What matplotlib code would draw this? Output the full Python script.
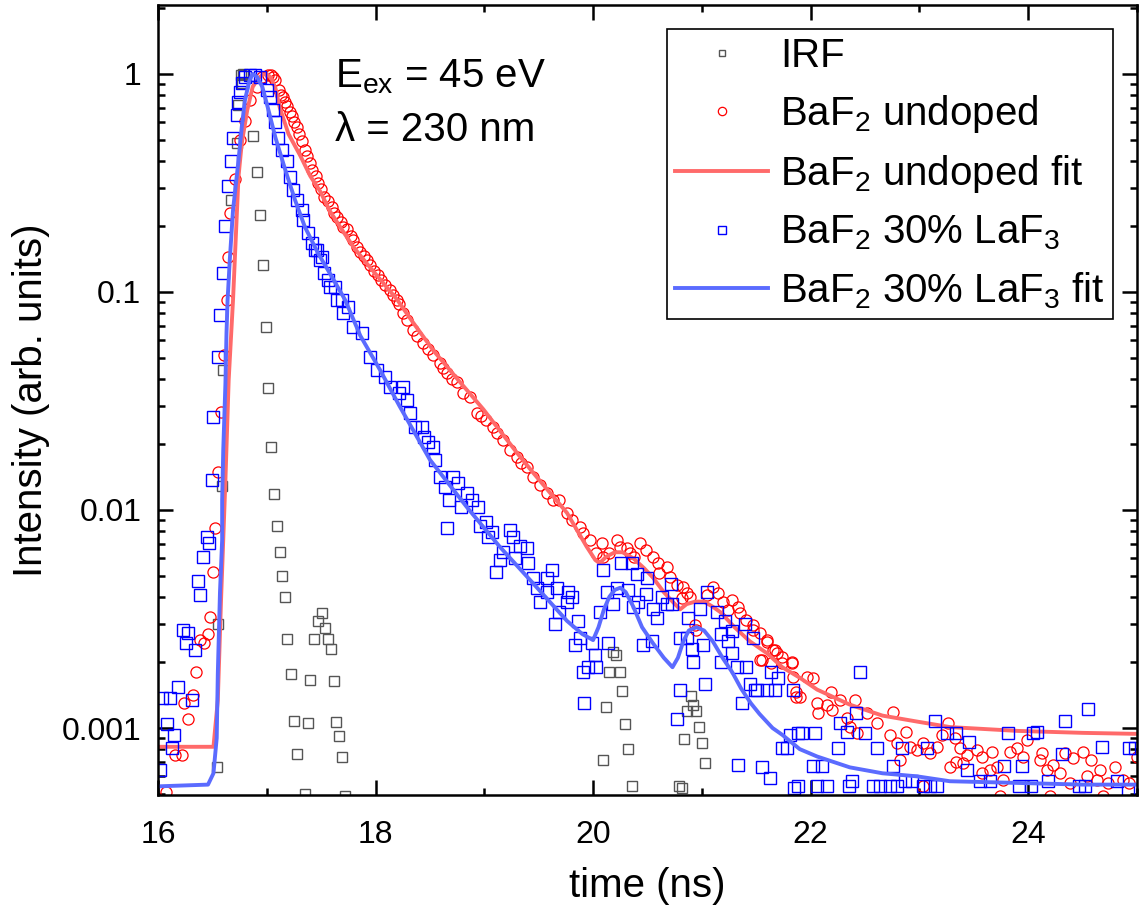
import matplotlib.pyplot as plt
from matplotlib.ticker import LogLocator, FixedLocator, FixedFormatter, MultipleLocator, NullFormatter

plt.rcParams['font.family'] = 'Liberation Sans'
plt.rcParams['mathtext.fontset'] = 'custom'
plt.rcParams['mathtext.rm'] = 'Liberation Sans'
plt.rcParams['mathtext.it'] = 'Liberation Sans:italic'

# IRF (instrument response)
irf_t = [16.54, 16.55, 16.59, 16.60, 16.67, 16.73, 16.74, 16.76, 16.77, 16.78,
         16.87, 16.91, 16.94, 16.97, 16.99, 17.01, 17.04, 17.07, 17.09, 17.12,
         17.14, 17.17, 17.19, 17.22, 17.25, 17.28, 17.35, 17.38, 17.40, 17.43,
         17.47, 17.51, 17.54, 17.56, 17.59, 17.62, 17.64, 17.66, 17.69, 17.72,
         20.09, 20.12, 20.15, 20.18, 20.21, 20.25, 20.27, 20.29, 20.32, 20.36,
         20.79, 20.82, 20.84, 20.86, 20.90, 20.92, 20.95, 20.97, 21.00, 21.03]
irf_i = [0.00066, 0.0030, 0.0129, 0.044, 0.264, 0.48, 0.72, 0.99, 0.91, 1.0,
         0.52, 0.355, 0.226, 0.133, 0.069, 0.0363, 0.0195, 0.0118, 0.0084, 0.0064,
         0.0050, 0.0040, 0.00256, 0.00177, 0.00108, 0.00076, 0.00050, 0.00105, 0.00166, 0.00256,
         0.0031, 0.00337, 0.00288, 0.00256, 0.0023, 0.00164, 0.00107, 0.00092, 0.00074, 0.00049,
         0.00071, 0.00125, 0.00181, 0.00224, 0.00216, 0.00181, 0.00148, 0.00104, 0.0008, 0.00054,
         0.00054, 0.00053, 0.00089, 0.0012, 0.0014, 0.00128, 0.0012, 0.00101, 0.00085, 0.00069]

# BaF2 undoped
undoped_t = [16.07, 16.16, 16.22, 16.24, 16.28, 16.32, 16.35, 16.39, 16.42, 16.46,
             16.48, 16.51, 16.52, 16.55, 16.58, 16.61, 16.63, 16.64, 16.66, 16.71,
             16.75, 16.80, 16.85, 16.91, 16.96, 17.01, 17.04, 17.06, 17.08,
             17.11, 17.13, 17.15, 17.17, 17.19, 17.21, 17.23, 17.25, 17.28, 17.30,
             17.32, 17.35, 17.37, 17.40, 17.42, 17.45, 17.47, 17.50, 17.53, 17.56,
             17.60, 17.62, 17.65, 17.68, 17.70, 17.74, 17.77, 17.79, 17.83, 17.86,
             17.89, 17.92, 17.95, 17.99, 18.02, 18.05, 18.09, 18.13, 18.16, 18.20,
             18.22, 18.25, 18.29, 18.34, 18.38, 18.44, 18.48, 18.53, 18.59, 18.62,
             18.66, 18.70, 18.75, 18.80, 18.87, 18.93, 18.97, 19.02, 19.08, 19.12,
             19.17, 19.24, 19.30, 19.34, 19.39, 19.45, 19.51, 19.58, 19.63, 19.69,
             19.76, 19.81, 19.88, 19.91, 19.97, 20.03, 20.08, 20.09, 20.15, 20.22,
             20.25, 20.31, 20.34, 20.38, 20.43, 20.49, 20.55, 20.60, 20.61, 20.68,
             20.71, 20.77, 20.82, 20.83, 20.86, 20.89, 20.94, 20.95, 21.05, 21.10,
             21.15, 21.19, 21.24, 21.28, 21.33, 21.35, 21.41, 21.47, 21.47, 21.53,
             21.53, 21.55, 21.60, 21.60, 21.64, 21.65, 21.67, 21.69, 21.74, 21.74,
             21.83, 21.83, 21.84, 21.87, 21.87, 21.90, 21.97, 22.02, 22.06, 22.07,
             22.15, 22.19, 22.20, 22.27, 22.33, 22.36, 22.41, 22.43, 22.52, 22.61,
             22.73, 22.76, 22.79, 22.82, 22.88, 22.91, 22.98, 23.03, 23.03, 23.10,
             23.16, 23.21, 23.26, 23.28, 23.33, 23.34, 23.37, 23.40, 23.44, 23.53,
             23.58, 23.58, 23.65, 23.67, 23.71, 23.74, 23.77, 23.83, 23.90, 23.95,
             23.99, 24.11, 24.13, 24.17, 24.20, 24.23, 24.29, 24.34, 24.38, 24.41,
             24.50, 24.54, 24.58, 24.63, 24.66, 24.69, 24.73, 24.80, 24.87, 24.93,
             25.00]
undoped_i = [0.00051, 0.00075, 0.00075, 0.0013, 0.0011, 0.00142, 0.00181, 0.00253, 0.00245, 0.0027,
             0.00323, 0.0052, 0.0083, 0.0149, 0.028, 0.0514, 0.092, 0.145, 0.23, 0.33,
             0.50, 0.61, 0.76, 0.87, 0.97, 0.99, 0.99, 0.97, 0.94,
             0.84, 0.80, 0.78, 0.74, 0.71, 0.67, 0.64, 0.60, 0.57, 0.53,
             0.49, 0.45, 0.42, 0.39, 0.363, 0.34, 0.316, 0.295, 0.273, 0.26,
             0.245, 0.23, 0.221, 0.21, 0.199, 0.195, 0.18, 0.173, 0.16, 0.152,
             0.146, 0.14, 0.133, 0.125, 0.119, 0.113, 0.108, 0.102, 0.097, 0.092,
             0.088, 0.080, 0.074, 0.067, 0.063, 0.0584, 0.055, 0.0514, 0.0472, 0.045,
             0.0425, 0.040, 0.0386, 0.0344, 0.033, 0.0279, 0.027, 0.0259, 0.024, 0.0225,
             0.0209, 0.0188, 0.0175, 0.0165, 0.0157, 0.0142, 0.013, 0.012, 0.0111, 0.0111,
             0.0097, 0.009, 0.00836, 0.0078, 0.0073, 0.00635, 0.00706, 0.00609, 0.00635, 0.0073,
             0.00677, 0.0067, 0.00635, 0.00609, 0.00706, 0.00656, 0.00609, 0.00571, 0.00514, 0.00548,
             0.00493, 0.00453, 0.00395, 0.00443, 0.00416, 0.00399, 0.00297, 0.00282, 0.00407, 0.00443,
             0.00416, 0.00378, 0.00348, 0.00387, 0.00359, 0.00337, 0.00313, 0.00297, 0.00282, 0.00273,
             0.00205, 0.00205, 0.00248, 0.00253, 0.00199, 0.00228, 0.00228, 0.00221, 0.00199, 0.00212,
             0.00201, 0.00199, 0.00171, 0.00139, 0.00146, 0.00139, 0.00171, 0.0017, 0.0013, 0.00117,
             0.00128, 0.00146, 0.00121, 0.00134, 0.00111, 0.00101, 0.00134, 0.00095, 0.00117, 0.00105,
             0.00093, 0.00118, 0.00085, 0.00071, 0.00096, 0.00082, 0.00079, 0.00085, 0.00054, 0.00077,
             0.00082, 0.00093, 0.00105, 0.00066, 0.0009, 0.0007, 0.00081, 0.00069, 0.00075, 0.00079,
             0.00074, 0.00062, 0.00064, 0.00078, 0.00066, 0.00049, 0.00058, 0.00078, 0.00081, 0.00074,
             0.00088, 0.00071, 0.00077, 0.00064, 0.00049, 0.00068, 0.00062, 0.00077, 0.00056, 0.00073,
             0.00078, 0.0006, 0.00071, 0.00058, 0.00064, 0.00049, 0.00056, 0.00066, 0.00058, 0.00056,
             0.00074]

undoped_fit_t = [16.00, 16.51, 16.55, 16.58, 16.62, 16.65, 16.69, 16.74, 16.77, 16.82,
                 16.87, 16.92, 16.96, 17.00, 17.04, 17.08, 17.12, 17.20, 17.31, 17.40,
                 17.49, 17.58, 17.70, 17.80, 17.92, 18.07, 18.20, 18.34, 18.53, 18.75,
                 18.99, 19.30, 19.45, 19.76, 19.94, 20.02, 20.06, 20.12, 20.20, 20.27,
                 20.37, 20.47, 20.55, 20.65, 20.73, 20.80, 20.86, 20.94, 21.02, 21.10,
                 21.17, 21.30, 21.44, 21.60, 21.74, 21.90, 22.06, 22.36, 22.66, 22.98,
                 23.28, 23.90, 24.50, 25.00]
undoped_fit_i = [0.00082, 0.00082, 0.00134, 0.0039, 0.0137, 0.0395, 0.092, 0.337, 0.48, 0.68,
                 0.87, 0.95, 0.99, 1.0, 0.96, 0.86, 0.70, 0.53, 0.42, 0.34,
                 0.29, 0.235, 0.19, 0.16, 0.135, 0.11, 0.092, 0.073, 0.054, 0.040,
                 0.029, 0.0183, 0.0148, 0.0097, 0.0068, 0.0059, 0.0057, 0.0061, 0.0064, 0.0064,
                 0.0060, 0.0054, 0.0049, 0.0042, 0.0038, 0.0035, 0.0037, 0.0038, 0.0038, 0.0036,
                 0.0034, 0.0029, 0.0025, 0.0022, 0.0019, 0.0017, 0.0015, 0.00128, 0.00114, 0.00107,
                 0.00101, 0.00097, 0.00095, 0.00094]

# BaF2 30% LaF3
laf3_t = [16.02, 16.04, 16.08, 16.11, 16.13, 16.15, 16.18, 16.23, 16.26, 16.28,
          16.31, 16.34, 16.37, 16.39, 16.41, 16.45, 16.47, 16.50, 16.51, 16.55,
          16.57, 16.60, 16.62, 16.64, 16.67, 16.69, 16.73, 16.74, 16.75, 16.77,
          16.80, 16.85, 16.89, 16.94, 17.00, 17.03, 17.06, 17.08, 17.10, 17.14,
          17.19, 17.21, 17.24, 17.28, 17.32, 17.33, 17.38, 17.42, 17.44, 17.46,
          17.49, 17.51, 17.53, 17.56, 17.58, 17.63, 17.65, 17.69, 17.70, 17.75,
          17.79, 17.88, 17.95, 18.01, 18.09, 18.13, 18.22, 18.25, 18.29, 18.32,
          18.36, 18.43, 18.45, 18.48, 18.53, 18.55, 18.59, 18.64, 18.66, 18.68,
          18.71, 18.76, 18.79, 18.84, 18.89, 18.94, 18.96, 19.02, 19.03, 19.07,
          19.11, 19.14, 19.17, 19.24, 19.26, 19.28, 19.33, 19.39, 19.40, 19.45,
          19.48, 19.51, 19.58, 19.58, 19.62, 19.65, 19.67, 19.69, 19.76, 19.77,
          19.81, 19.83, 19.86, 19.88, 19.91, 19.92, 19.95, 19.99, 20.02, 20.03,
          20.06, 20.09, 20.13, 20.14, 20.18, 20.22, 20.26, 20.32, 20.36, 20.37,
          20.40, 20.41, 20.46, 20.49, 20.50, 20.54, 20.55, 20.59, 20.63, 20.68,
          20.72, 20.73, 20.77, 20.80, 20.80, 20.86, 20.87, 20.91, 20.92, 20.98,
          21.01, 21.03, 21.05, 21.14, 21.18, 21.18, 21.21, 21.24, 21.28, 21.28,
          21.32, 21.33, 21.37, 21.40, 21.41, 21.44, 21.47, 21.49, 21.51, 21.55,
          21.60, 21.63, 21.64, 21.67, 21.70, 21.74, 21.78, 21.81, 21.84, 21.85,
          21.88, 21.88, 21.92, 22.02, 22.04, 22.06, 22.10, 22.15, 22.25, 22.27,
          22.33, 22.35, 22.38, 22.42, 22.45, 22.50, 22.57, 22.61, 22.64, 22.73,
          22.76, 22.79, 22.84, 22.87, 22.93, 23.03, 23.07, 23.10, 23.14, 23.16,
          23.25, 23.34, 23.44, 23.46, 23.56, 23.65, 23.78, 23.81, 23.92, 23.94,
          24.03, 24.04, 24.08, 24.18, 24.31, 24.34, 24.47, 24.52, 24.55, 24.68,
          24.82, 24.92, 24.93, 24.98]
laf3_i = [0.00064, 0.00137, 0.00104, 0.00137, 0.00081, 0.00093, 0.00155, 0.00282, 0.00245, 0.00273,
          0.00134, 0.00228, 0.0047, 0.00407, 0.00609, 0.0075, 0.00706, 0.0137, 0.0267, 0.0503,
          0.0784, 0.122, 0.20, 0.306, 0.40, 0.51, 0.65, 0.74, 0.83, 0.91,
          0.97, 0.99, 0.99, 0.97, 0.84, 0.78, 0.68, 0.60, 0.51, 0.45,
          0.40, 0.337, 0.294, 0.264, 0.238, 0.214, 0.187, 0.168, 0.156, 0.156,
          0.14, 0.145, 0.122, 0.1135, 0.105, 0.105, 0.092, 0.092, 0.080, 0.085,
          0.069, 0.065, 0.0503, 0.0439, 0.0407, 0.0367, 0.0344, 0.0367, 0.032, 0.0279,
          0.024, 0.024, 0.0216, 0.0205, 0.0195, 0.017, 0.0142, 0.0128, 0.0083, 0.0111,
          0.0142, 0.0133, 0.0103, 0.012, 0.0111, 0.0103, 0.0084, 0.0088, 0.0075, 0.0079,
          0.0052, 0.0059, 0.0064, 0.0081, 0.0075, 0.006, 0.0068, 0.0067, 0.0057, 0.0049,
          0.0044, 0.0038, 0.0049, 0.0042, 0.0053, 0.003, 0.0044, 0.0034, 0.0038, 0.0042,
          0.004, 0.0024, 0.0031, 0.0026, 0.0018, 0.0013, 0.0019, 0.00245, 0.00216, 0.0019,
          0.0034, 0.0053, 0.0042, 0.00245, 0.0037, 0.0044, 0.0057, 0.0043, 0.0057, 0.0036,
          0.0051, 0.0038, 0.0024, 0.0041, 0.0049, 0.0025, 0.0035, 0.0032, 0.004, 0.0037,
          0.0046, 0.0037, 0.0011, 0.0026, 0.0015, 0.0026, 0.0032, 0.0023, 0.002, 0.0035,
          0.0024, 0.0016, 0.0042, 0.0034, 0.0027, 0.002, 0.0031, 0.0025, 0.0028, 0.0022,
          0.0019, 0.00068, 0.0013, 0.003, 0.0019, 0.0016, 0.0026, 0.0015, 0.0015, 0.00066,
          0.0015, 0.00059, 0.0018, 0.0015, 0.0017, 0.00081, 0.00081, 0.00093, 0.0015, 0.00053,
          0.00095, 0.00054, 0.00095, 0.00067, 0.00095, 0.00054, 0.00067, 0.00054, 0.00081, 0.00105,
          0.00096, 0.00054, 0.00057, 0.00117, 0.0018, 0.00095, 0.00054, 0.00081, 0.00054, 0.00054,
          0.00067, 0.00054, 0.00081, 0.00057, 0.00057, 0.00054, 0.00081, 0.00054, 0.00108, 0.00054,
          0.00095, 0.00095, 0.00064, 0.00086, 0.00057, 0.00057, 0.00067, 0.00095, 0.00054, 0.00067,
          0.00054, 0.00095, 0.00096, 0.00057, 0.00076, 0.00108, 0.00054, 0.00054, 0.00122, 0.00082,
          0.00057, 0.00052, 0.00081, 0.00081]

laf3_fit_t = [16.00, 16.46, 16.51, 16.54, 16.55, 16.57, 16.59, 16.59, 16.60, 16.62,
              16.63, 16.64, 16.66, 16.69, 16.74, 16.77, 16.80, 16.84, 16.87, 16.91,
              16.96, 17.01, 17.08, 17.17, 17.26, 17.35, 17.47, 17.60, 17.72, 17.86,
              18.04, 18.22, 18.50, 18.84, 19.14, 19.45, 19.76, 19.90, 20.00, 20.05,
              20.10, 20.15, 20.20, 20.25, 20.30, 20.37, 20.45, 20.55, 20.65, 20.73,
              20.78, 20.83, 20.88, 20.95, 21.02, 21.10, 21.19, 21.28, 21.36, 21.45,
              21.53, 21.65, 21.74, 21.90, 22.06, 22.36, 22.66, 22.98, 23.28, 23.90,
              24.50, 25.00]
laf3_fit_i = [0.00054, 0.00055, 0.00062, 0.0009, 0.00177, 0.0042, 0.0073, 0.0111, 0.0188, 0.038,
              0.065, 0.092, 0.14, 0.238, 0.40, 0.57, 0.76, 0.93, 1.0, 0.97,
              0.87, 0.70, 0.51, 0.363, 0.264, 0.199, 0.151, 0.117, 0.092, 0.063,
              0.044, 0.030, 0.017, 0.0103, 0.0068, 0.0046, 0.0031, 0.0027, 0.00253, 0.0029,
              0.0035, 0.0040, 0.0043, 0.0044, 0.0042, 0.0036, 0.0029, 0.00245, 0.0021, 0.0019,
              0.0021, 0.0025, 0.0028, 0.0029, 0.0028, 0.0025, 0.0021, 0.0018, 0.00152, 0.0013,
              0.00116, 0.0010, 0.00093, 0.0008, 0.00074, 0.00066, 0.00062, 0.0006, 0.00057, 0.00056,
              0.00055, 0.00055]

fig = plt.figure(figsize=(11.39, 9.10), dpi=100)
ax = fig.add_axes([0.1387, 0.1264, 0.8595, 0.8681])

ax.plot(irf_t, irf_i, ls='none', marker='s', ms=6.5, mfc='none', mec='#555555', mew=1.0, label='IRF')
ax.plot(undoped_t, undoped_i, ls='none', marker='o', ms=8, mfc='none', mec='#ff0000', mew=0.9,
        label='BaF$_2$ undoped')
ax.plot(undoped_fit_t, undoped_fit_i, color='#ff6a6a', lw=2.8, label='BaF$_2$ undoped fit')
ax.plot(laf3_t, laf3_i, ls='none', marker='s', ms=8, mfc='none', mec='#0000ff', mew=1.0,
        label='BaF$_2$ 30% LaF$_3$')
ax.plot(laf3_fit_t, laf3_fit_i, color='#5b6bff', lw=2.8, label='BaF$_2$ 30% LaF$_3$ fit')

ax.set_yscale('log')
ax.set_xlim(16, 25)
ax.set_ylim(4.93e-4, 2.07)

ax.xaxis.set_major_locator(MultipleLocator(2))
ax.xaxis.set_minor_locator(MultipleLocator(1))
ax.yaxis.set_major_locator(FixedLocator([0.001, 0.01, 0.1, 1]))
ax.yaxis.set_major_formatter(FixedFormatter(['0.001', '0.01', '0.1', '1']))
ax.yaxis.set_minor_locator(LogLocator(base=10, subs=range(2, 10)))
ax.yaxis.set_minor_formatter(NullFormatter())

ax.tick_params(which='both', direction='in', top=True, right=True, width=1.8, labelsize=23)
ax.tick_params(which='major', length=11)
ax.tick_params(which='minor', length=5)
ax.tick_params(axis='x', pad=18)
ax.tick_params(axis='y', pad=12)
for s in ax.spines.values():
    s.set_linewidth(1.8)

ax.set_xlabel('time (ns)', fontsize=29, labelpad=12)
ax.set_ylabel('Intensity (arb. units)', fontsize=29, labelpad=8)

ax.text(0.181, 0.909, r'E$_{\rm ex}$ = 45 eV', transform=ax.transAxes, fontsize=29, va='center')
ax.text(0.181, 0.842, 'λ = 230 nm', transform=ax.transAxes, fontsize=29, va='center')

leg = ax.legend(loc='upper right', fontsize=29, frameon=True, fancybox=False, edgecolor='black',
                framealpha=1, handlelength=2.3, handletextpad=0.3, borderpad=0.2,
                labelspacing=0.45, markerscale=0.75, borderaxespad=0.6)
leg.get_frame().set_linewidth(1.2)

fig.savefig('out.png', dpi=100)
